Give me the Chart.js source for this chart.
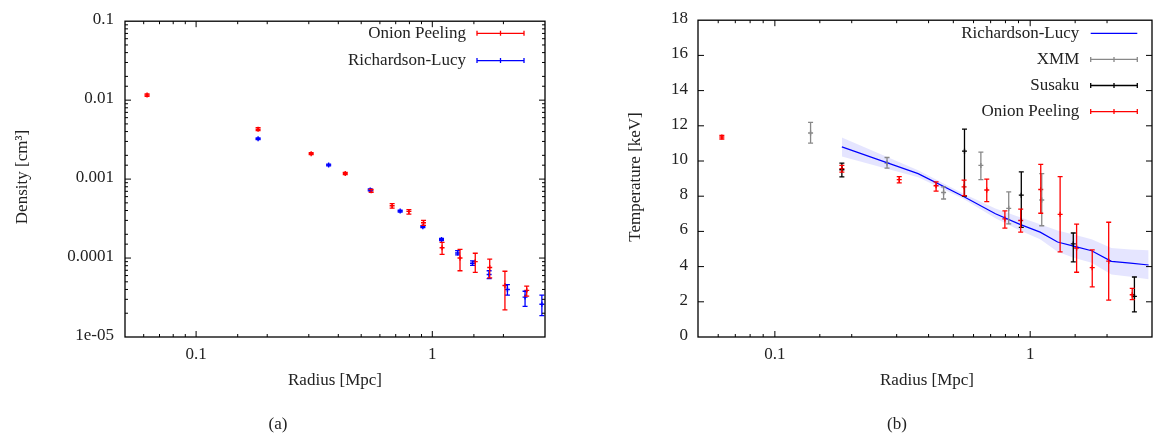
<!DOCTYPE html>
<html>
<head>
<meta charset="utf-8">
<script src="https://cdn.jsdelivr.net/npm/chart.js@4.4.1/dist/chart.umd.min.js"></script>
<style>
  html, body { margin: 0; padding: 0; background: #fff; overflow: hidden; }
  #wrap { position: relative; width: 1157px; height: 434px; overflow: hidden; }
  canvas { position: absolute; top: 0; }
  #densityChart { left: 0; }
  #tempChart { left: 578px; }
</style>
</head>
<body>
<div id="wrap">
  <canvas id="densityChart" width="578" height="434"></canvas>
  <canvas id="tempChart" width="581" height="434"></canvas>
</div>
<script>
// ---- (a) density profile ----
const onionR = [0.062, 0.183, 0.307, 0.428, 0.551, 0.676, 0.796, 0.918, 1.10, 1.31, 1.52, 1.75, 2.03, 2.51];
const onionDensity   = [0.0116, 0.00428, 0.0021, 0.00118, 0.00071, 0.00046, 0.00039, 0.00028, 0.000135, 0.0001, 0.00009, 0.000076, 0.000045, 0.000039];
const onionDensityLo = [0.0112, 0.0041, 0.00204, 0.00114, 0.00068, 0.00043, 0.00036, 0.00026, 0.000111, 0.000069, 0.000066, 0.000056, 0.000022, 0.000033];
const onionDensityHi = [0.0120, 0.0045, 0.00216, 0.00122, 0.00074, 0.00049, 0.00041, 0.00030, 0.000158, 0.000129, 0.000115, 0.000097, 0.000068, 0.000044];

const rlR = [0.183, 0.364, 0.546, 0.731, 0.912, 1.094, 1.28, 1.48, 1.74, 2.08, 2.47, 2.91];
const rlDensity   = [0.00324, 0.00151, 0.00073, 0.000393, 0.00025, 0.000172, 0.000116, 0.000086, 0.000062, 0.00004, 0.000032, 0.000026];
const rlDensityLo = [0.00316, 0.00147, 0.00071, 0.000383, 0.000243, 0.000166, 0.00011, 0.000081, 0.000055, 0.000034, 0.0000245, 0.0000187];
const rlDensityHi = [0.00332, 0.00155, 0.00075, 0.000403, 0.000257, 0.000178, 0.000124, 0.000092, 0.000069, 0.000046, 0.000038, 0.000034];

// ---- (b) temperature profile ----
const onionTemp   = [11.36, 9.56, 8.94, 8.59, 8.53, 8.35, 6.71, 6.62, 8.38, 6.97, 5.06, 3.94, 4.31, 2.40];
const onionTempLo = [11.25, 9.37, 8.76, 8.29, 8.03, 7.69, 6.19, 5.96, 7.03, 4.84, 3.68, 2.85, 2.10, 2.12];
const onionTempHi = [11.46, 9.75, 9.11, 8.81, 8.91, 8.97, 7.17, 7.26, 9.81, 9.11, 6.41, 4.95, 6.52, 2.76];

const xmmR      = [0.138, 0.275, 0.458, 0.641, 0.824, 1.11];
const xmmTemp   = [11.59, 9.88, 8.21, 9.75, 7.31, 7.78];
const xmmTempLo = [11.01, 9.60, 7.84, 8.94, 6.43, 6.32];
const xmmTempHi = [12.19, 10.20, 8.53, 10.50, 8.25, 9.28];

const susakuR      = [0.183, 0.553, 0.923, 1.475, 2.56];
const susakuTemp   = [9.50, 10.56, 8.06, 5.29, 2.31];
const susakuTempLo = [9.10, 8.01, 6.23, 4.27, 1.43];
const susakuTempHi = [9.88, 11.81, 9.38, 5.91, 3.41];

const rlTemp   = [10.80, 9.28, 8.00, 7.00, 6.40, 5.96, 5.40, 5.16, 4.90, 4.30, 4.20, 4.09];
const rlTempLo = [10.26, 9.08, 7.85, 6.75, 6.05, 5.55, 4.85, 4.50, 4.22, 3.55, 3.42, 3.28];
const rlTempHi = [11.33, 9.48, 8.15, 7.30, 6.80, 6.40, 6.05, 5.82, 5.55, 5.06, 4.97, 4.93];

// tick labels
const densityTickLabels = {'-5': '1e-05', '-4': '0.0001', '-3': '0.001', '-2': '0.01', '-1': '0.1'};
const radiusTickLabels = {'-1': '0.1', '0': '1'};
const tempTicks = [0, 2, 4, 6, 8, 10, 12, 14, 16, 18];

const FONT = '"Liberation Serif", "Times New Roman", serif';
const TEXT = '#222';
const RED = '#ff0000', BLUE = '#0000ff', GRAY = '#888888', BLACK = '#000000';

function pts(xs, ys) {
    return xs.map((x, i) => ({x: x, y: ys[i]}));
}

function decadeExp(v) {
    const l = Math.log10(v);
    return Math.abs(l - Math.round(l)) < 1e-6 ? Math.round(l) : null;
}

// vertical error bars drawn through the chart scales
const errorBars = {
    id: 'errorBars',
    afterDatasetsDraw(chart) {
        const ctx = chart.ctx, xs = chart.scales.x, ys = chart.scales.y;
        ctx.save();
        chart.data.datasets.forEach(ds => {
            if (!ds.errLo) return;
            ctx.strokeStyle = ds.borderColor;
            ctx.lineWidth = 1.3;
            ds.data.forEach((p, i) => {
                const px = xs.getPixelForValue(p.x);
                const y1 = ys.getPixelForValue(ds.errLo[i]);
                const y2 = ys.getPixelForValue(ds.errHi[i]);
                ctx.beginPath();
                ctx.moveTo(px, y1); ctx.lineTo(px, y2);
                ctx.moveTo(px - 2.5, y1); ctx.lineTo(px + 2.5, y1);
                ctx.moveTo(px - 2.5, y2); ctx.lineTo(px + 2.5, y2);
                ctx.stroke();
            });
        });
        ctx.restore();
    }
};

// gnuplot-like frame with inward ticks, key and titles
const gnuFrame = {
    id: 'gnuFrame',
    afterDraw(chart, args, opts) {
        const ctx = chart.ctx, a = chart.chartArea;
        const xs = chart.scales.x, ys = chart.scales.y;
        ctx.save();
        ctx.strokeStyle = '#000';
        ctx.lineWidth = 1;
        ctx.beginPath();
        xs.ticks.forEach(t => {
            const px = xs.getPixelForValue(t.value);
            if (px <= a.left + 1 || px >= a.right - 1) return;
            const len = decadeExp(t.value) !== null ? 6 : 3;
            ctx.moveTo(px, a.bottom); ctx.lineTo(px, a.bottom - len);
            ctx.moveTo(px, a.top); ctx.lineTo(px, a.top + len);
        });
        ys.ticks.forEach(t => {
            const py = ys.getPixelForValue(t.value);
            if (py <= a.top + 1 || py >= a.bottom - 1) return;
            const len = (ys.type === 'linear' || decadeExp(t.value) !== null) ? 6 : 3;
            ctx.moveTo(a.left, py); ctx.lineTo(a.left + len, py);
            ctx.moveTo(a.right, py); ctx.lineTo(a.right - len, py);
        });
        ctx.stroke();
        ctx.lineWidth = 1.3;
        ctx.strokeRect(a.left, a.top, a.right - a.left, a.bottom - a.top);

        // key
        const k = opts.key;
        ctx.font = '17px ' + FONT;
        ctx.textBaseline = 'middle';
        ctx.textAlign = 'right';
        k.order.forEach((di, row) => {
            const ds = chart.data.datasets[di];
            const y = k.y0 + row * k.dy;
            ctx.fillStyle = TEXT;
            ctx.fillText(ds.label, k.textRight, y);
            ctx.strokeStyle = ds.borderColor;
            ctx.lineWidth = 1.3;
            ctx.beginPath();
            ctx.moveTo(k.x1, y); ctx.lineTo(k.x2, y);
            if (ds.errLo) {
                const xm = (k.x1 + k.x2) / 2;
                ctx.moveTo(k.x1, y - 2.5); ctx.lineTo(k.x1, y + 2.5);
                ctx.moveTo(k.x2, y - 2.5); ctx.lineTo(k.x2, y + 2.5);
                ctx.moveTo(xm, y - 2.5); ctx.lineTo(xm, y + 2.5);
            }
            ctx.stroke();
        });

        // axis titles and caption
        ctx.fillStyle = TEXT;
        ctx.textAlign = 'center';
        ctx.fillText(opts.xTitle, opts.xTitlePos[0], opts.xTitlePos[1]);
        ctx.fillText(opts.caption, opts.captionPos[0], opts.captionPos[1]);
        ctx.save();
        ctx.translate(opts.yTitlePos[0], opts.yTitlePos[1]);
        ctx.rotate(-Math.PI / 2);
        ctx.fillText(opts.yTitle, 0, 0);
        ctx.restore();
        ctx.restore();
    }
};

function errDataset(label, color, xs, ys, lo, hi) {
    return {
        label: label,
        data: pts(xs, ys),
        errLo: lo,
        errHi: hi,
        borderColor: color,
        backgroundColor: color,
        pointStyle: 'cross',
        pointRadius: 2.5,
        pointBorderWidth: 1.4,
        showLine: false
    };
}

const tickFont = {family: FONT, size: 17};

// ---- chart (a) ----
new Chart(document.getElementById('densityChart'), {
    type: 'scatter',
    data: {
        datasets: [
            errDataset('Richardson-Lucy', BLUE, rlR, rlDensity, rlDensityLo, rlDensityHi),
            errDataset('Onion Peeling', RED, onionR, onionDensity, onionDensityLo, onionDensityHi)
        ]
    },
    options: {
        responsive: false,
        animation: false,
        events: [],
        layout: {padding: {left: 0, top: 16, right: 33, bottom: 0}},
        plugins: {
            legend: {display: false},
            tooltip: {enabled: false},
            gnuFrame: {
                key: {order: [1, 0], textRight: 466, x1: 477, x2: 524, y0: 33.3, dy: 27.3},
                xTitle: 'Radius [Mpc]', xTitlePos: [335, 381],
                yTitle: 'Density [cm³]', yTitlePos: [23, 177],
                caption: '(a)', captionPos: [278, 425]
            }
        },
        scales: {
            x: {
                type: 'logarithmic', min: 0.05, max: 3,
                grid: {display: false, drawTicks: false},
                border: {display: false},
                afterFit: s => { s.height = 97; },
                ticks: {
                    autoSkip: false, maxRotation: 0, padding: 7, color: TEXT, font: tickFont,
                    callback: v => { const e = decadeExp(v); return e === null ? '' : (radiusTickLabels[e] || ''); }
                }
            },
            y: {
                type: 'logarithmic', min: 1e-5, max: 0.1,
                grid: {display: false, drawTicks: false},
                border: {display: false},
                afterFit: s => { s.width = 125; },
                ticks: {
                    autoSkip: false, padding: 11, labelOffset: -1.5, color: TEXT, font: tickFont,
                    callback: v => { const e = decadeExp(v); return e === null ? '' : (densityTickLabels[e] || ''); }
                }
            }
        }
    },
    plugins: [errorBars, gnuFrame]
});

// ---- chart (b) ----
new Chart(document.getElementById('tempChart'), {
    type: 'scatter',
    data: {
        datasets: [
            {label: 'band-lo', data: pts(rlR, rlTempLo), showLine: true, borderWidth: 0, pointRadius: 0, fill: false},
            {label: 'band-hi', data: pts(rlR, rlTempHi), showLine: true, borderWidth: 0, pointRadius: 0, fill: '-1', backgroundColor: 'rgba(0,0,255,0.1)'},
            {label: 'Richardson-Lucy', data: pts(rlR, rlTemp), showLine: true, borderColor: BLUE, borderWidth: 1.2, pointRadius: 0, fill: false},
            errDataset('XMM', GRAY, xmmR, xmmTemp, xmmTempLo, xmmTempHi),
            errDataset('Susaku', BLACK, susakuR, susakuTemp, susakuTempLo, susakuTempHi),
            errDataset('Onion Peeling', RED, onionR, onionTemp, onionTempLo, onionTempHi)
        ]
    },
    options: {
        responsive: false,
        animation: false,
        events: [],
        layout: {padding: {left: 0, top: 16, right: 0, bottom: 0}},
        plugins: {
            legend: {display: false},
            tooltip: {enabled: false},
            filler: {propagate: false},
            gnuFrame: {
                key: {order: [2, 3, 4, 5], textRight: 501.3, x1: 512.7, x2: 559.3, y0: 33.3, dy: 26.1},
                xTitle: 'Radius [Mpc]', xTitlePos: [349, 381],
                yTitle: 'Temperature [keV]', yTitlePos: [58, 177],
                caption: '(b)', captionPos: [319, 425]
            }
        },
        scales: {
            x: {
                type: 'logarithmic', min: 0.05, max: 3,
                grid: {display: false, drawTicks: false},
                border: {display: false},
                afterFit: s => { s.height = 97; },
                ticks: {
                    autoSkip: false, maxRotation: 0, padding: 7, color: TEXT, font: tickFont,
                    callback: v => { const e = decadeExp(v); return e === null ? '' : (radiusTickLabels[e] || ''); }
                }
            },
            y: {
                type: 'linear', min: 0, max: 18,
                grid: {display: false, drawTicks: false},
                border: {display: false},
                afterFit: s => { s.width = 120; },
                afterBuildTicks: s => { s.ticks = tempTicks.map(v => ({value: v})); },
                ticks: {padding: 10, labelOffset: -1.5, color: TEXT, font: tickFont}
            }
        }
    },
    plugins: [errorBars, gnuFrame]
});
</script>
</body>
</html>
